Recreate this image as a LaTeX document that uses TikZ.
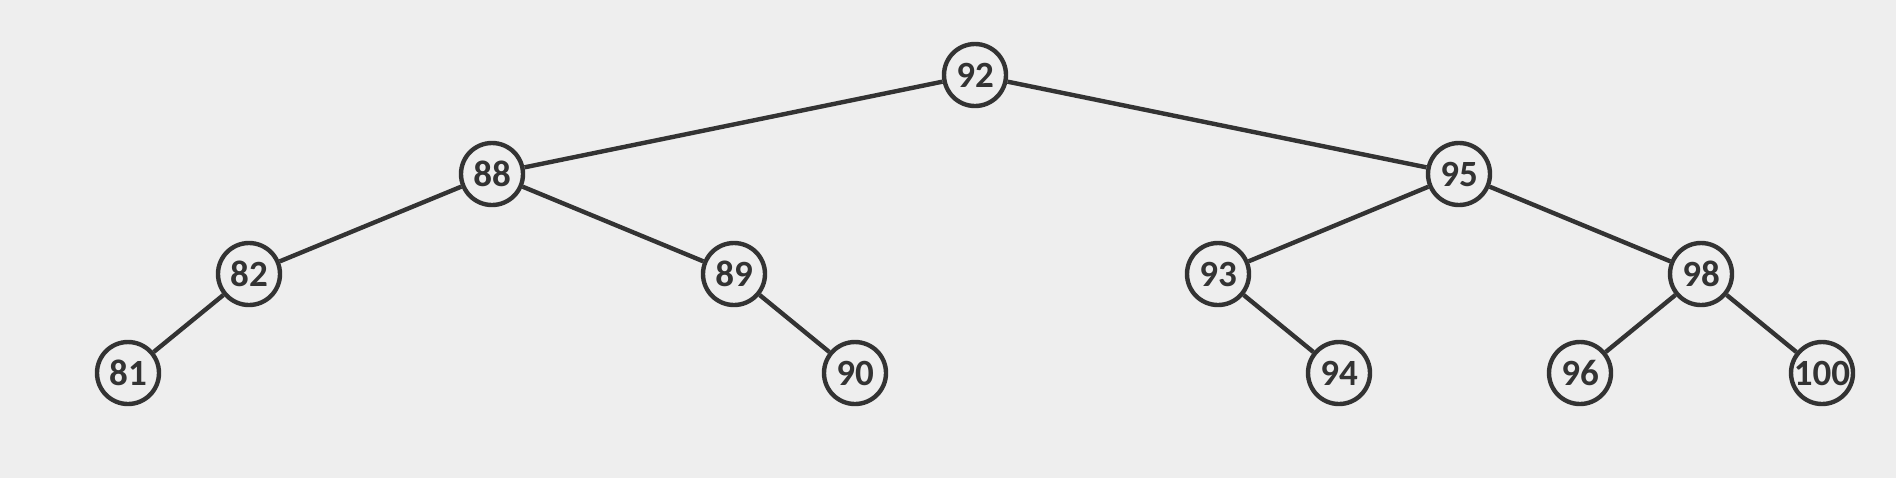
\documentclass[tikz,border=0pt]{standalone}
\usepackage{fontspec}
\setmainfont{Carlito}
\definecolor{inkgray}{HTML}{333333}
\definecolor{paper}{HTML}{EEEEEE}

\begin{document}
\begin{tikzpicture}[x=0.5pt, y=-0.5pt]
          \tikzstyle{key}=[draw=inkgray, circle, line width=2.2pt, inner sep=0pt, minimum size=31pt, fill=paper, text=inkgray, font=\fontsize{18.5}{18.5}\selectfont\bfseries]

          \fill[paper] (0,0) rectangle (1896,478);

          \node (n92) at (975, 75) [key] {92};
          \node (n88) at (492, 174) [key] {88};
          \node (n95) at (1459, 174) [key] {95};
          \node (n82) at (249, 274) [key] {82};
          \node (n89) at (734, 274) [key] {89};
          \node (n93) at (1218, 274) [key] {93};
          \node (n98) at (1701, 274) [key] {98};
          \node (n81) at (128, 373) [key] {81};
          \node (n90) at (855, 373) [key] {90};
          \node (n94) at (1339, 373) [key] {94};
          \node (n96) at (1580, 373) [key] {96};
          \node (n100) at (1822, 373) [key] {100};

          \draw[inkgray, line width=2.2pt] (n92) -- (n88);
          \draw[inkgray, line width=2.2pt] (n92) -- (n95);
          \draw[inkgray, line width=2.2pt] (n88) -- (n82);
          \draw[inkgray, line width=2.2pt] (n88) -- (n89);
          \draw[inkgray, line width=2.2pt] (n82) -- (n81);
          \draw[inkgray, line width=2.2pt] (n89) -- (n90);
          \draw[inkgray, line width=2.2pt] (n95) -- (n93);
          \draw[inkgray, line width=2.2pt] (n95) -- (n98);
          \draw[inkgray, line width=2.2pt] (n93) -- (n94);
          \draw[inkgray, line width=2.2pt] (n98) -- (n96);
          \draw[inkgray, line width=2.2pt] (n98) -- (n100);
        \end{tikzpicture}
\end{document}
